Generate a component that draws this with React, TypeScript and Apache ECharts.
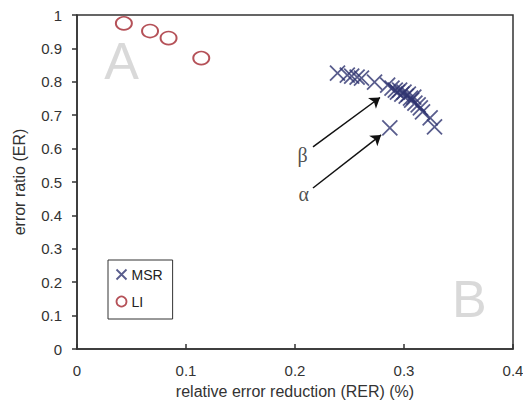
import React, { useEffect, useRef } from "react";
import * as echarts from "echarts";

const msrX = [0.239, 0.248, 0.252, 0.257, 0.261, 0.273, 0.285, 0.289, 0.292, 0.294, 0.296, 0.298, 0.300, 0.302, 0.304, 0.306, 0.307, 0.309, 0.310, 0.313, 0.315, 0.317, 0.324, 0.328];
const msrY = [0.826, 0.820, 0.817, 0.814, 0.811, 0.799, 0.790, 0.781, 0.775, 0.769, 0.775, 0.763, 0.769, 0.757, 0.763, 0.751, 0.745, 0.754, 0.736, 0.731, 0.722, 0.710, 0.692, 0.665];
const alphaPoint = [0.287, 0.662];
const liX = [0.043, 0.067, 0.084, 0.114];
const liY = [0.975, 0.952, 0.931, 0.871];
const xTicks = [0, 0.1, 0.2, 0.3, 0.4];
const yTicks = [0, 0.1, 0.2, 0.3, 0.4, 0.5, 0.6, 0.7, 0.8, 0.9, 1];
const arrowBeta = [[0.2165, 0.605], [0.278, 0.753]];
const arrowAlpha = [[0.2165, 0.482], [0.279, 0.641]];
const greekLabels = [
  { text: "β", x: 0.207, y: 0.58 },
  { text: "α", x: 0.208, y: 0.465 },
];
const regionLabels = [
  { text: "A", x: 0.041, y: 0.862 },
  { text: "B", x: 0.36, y: 0.15 },
];

const CROSS = "path://M0,0L10,10M10,0L0,10";
const NAVY = "#2f3570";
const RED = "#a3262e";
const FONT = "Liberation Sans, Arial, sans-serif";

export default function App() {
  const ref = useRef<HTMLDivElement>(null);
  useEffect(() => {
    if (!ref.current) return;
    const chart = echarts.init(ref.current, undefined, { renderer: "svg" });
    const msrData = msrX.map((x, i) => [x, msrY[i]]);
    msrData.push(alphaPoint);
    const liData = liX.map((x, i) => [x, liY[i]]);
    const hidden = { color: "rgba(0,0,0,0)", borderWidth: 0 };
    chart.setOption({
      animation: false,
      backgroundColor: "#fff",
      textStyle: { fontFamily: FONT },
      grid: {
        left: 77,
        right: 10,
        top: 15,
        bottom: 58,
        show: true,
        borderColor: "#333",
        borderWidth: 1.5,
        containLabel: false,
        outerBoundsMode: "none",
      },
      legend: {
        orient: "vertical",
        left: 108,
        top: 260,
        padding: [7, 10, 10, 6],
        itemGap: 12,
        itemWidth: 10,
        itemHeight: 10,
        borderColor: "#333",
        borderWidth: 1,
        textStyle: { fontSize: 14, color: "#222", fontFamily: FONT },
        data: [
          { name: "MSR", icon: CROSS, itemStyle: { color: "none", borderColor: NAVY, borderWidth: 1.8 } },
          { name: "LI", icon: "circle", itemStyle: { color: "none", borderColor: RED, borderWidth: 1.8 } },
        ],
      },
      xAxis: {
        type: "value",
        min: xTicks[0],
        max: xTicks[xTicks.length - 1],
        interval: 0.1,
        name: "relative error reduction (RER) (%)",
        nameLocation: "middle",
        nameGap: 34,
        nameTextStyle: { fontSize: 16, color: "#333", fontFamily: FONT },
        axisLine: { lineStyle: { color: "#333", width: 1.5 } },
        axisTick: { inside: true, length: 5, lineStyle: { color: "#333", width: 1.5 } },
        axisLabel: { fontSize: 15, color: "#333", margin: 14, formatter: (v: number) => String(+v.toFixed(1)) },
        splitLine: { show: false },
      },
      yAxis: {
        type: "value",
        min: yTicks[0],
        max: yTicks[yTicks.length - 1],
        interval: 0.1,
        name: "error ratio (ER)",
        nameLocation: "middle",
        nameGap: 50,
        nameTextStyle: { fontSize: 16, color: "#333", fontFamily: FONT },
        axisLine: { lineStyle: { color: "#333", width: 1.5 } },
        axisTick: { inside: false, length: 5, lineStyle: { color: "#333", width: 1.5 } },
        axisLabel: { fontSize: 15, color: "#333", margin: 15, formatter: (v: number) => String(+v.toFixed(1)) },
        splitLine: { show: false },
      },
      series: [
        {
          name: "regions",
          type: "scatter",
          symbol: "circle",
          symbolSize: 1,
          itemStyle: hidden,
          silent: true,
          data: regionLabels.map((d) => ({
            value: [d.x, d.y],
            label: { show: true, formatter: d.text, position: "inside", fontSize: 52, color: "#d0d0d0", fontFamily: FONT },
          })),
          z: 1,
        },
        {
          name: "MSR",
          type: "scatter",
          symbol: CROSS,
          symbolSize: 15,
          itemStyle: { color: "none", borderColor: NAVY, borderWidth: 1.8 },
          data: msrData,
          z: 3,
        },
        {
          name: "LI",
          type: "scatter",
          symbol: "circle",
          symbolSize: [16, 13],
          itemStyle: { color: "none", borderColor: RED, borderWidth: 1.8 },
          data: liData,
          z: 3,
        },
        {
          name: "greek",
          type: "scatter",
          symbol: "circle",
          symbolSize: 1,
          itemStyle: hidden,
          silent: true,
          data: greekLabels.map((d) => ({
            value: [d.x, d.y],
            label: { show: true, formatter: d.text, position: "inside", fontSize: 20, color: "#222", fontFamily: "Liberation Serif, serif" },
          })),
          markLine: {
            silent: true,
            symbol: ["none", "arrow"],
            symbolSize: 10,
            label: { show: false },
            lineStyle: { color: "#111", width: 1.5, type: "solid" },
            itemStyle: { color: "#111" },
            data: [
              [{ coord: arrowBeta[0] }, { coord: arrowBeta[1] }],
              [{ coord: arrowAlpha[0] }, { coord: arrowAlpha[1] }],
            ],
          },
          z: 2,
        },
      ],
    });
    return () => chart.dispose();
  }, []);
  return <div ref={ref} style={{ width: 523, height: 407, position: "fixed", left: 0, top: 0 }} />;
}
